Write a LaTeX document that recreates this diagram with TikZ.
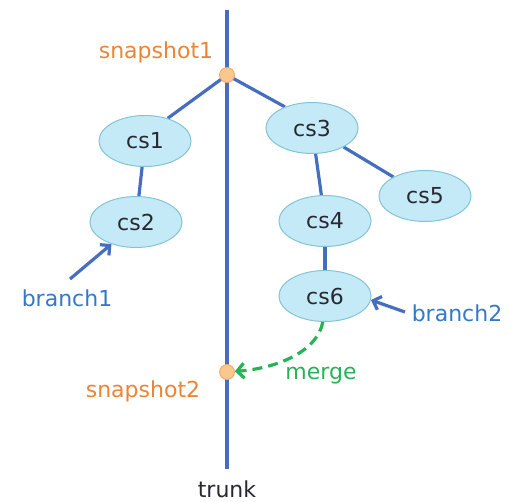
\documentclass[tikz,border=0pt]{standalone}
\usepackage{fontspec}
\setmainfont{DejaVu Sans}
\usetikzlibrary{arrows.meta,shapes.geometric,backgrounds}
\definecolor{linecol}{RGB}{70,110,192}
\definecolor{nodefill}{RGB}{196,234,248}
\definecolor{nodedraw}{RGB}{130,196,214}
\definecolor{dotfill}{RGB}{250,200,140}
\definecolor{dotdraw}{RGB}{238,168,100}
\definecolor{orangetxt}{RGB}{236,132,52}
\definecolor{bluetxt}{RGB}{52,120,200}
\definecolor{greencol}{RGB}{40,178,88}
\definecolor{darktxt}{RGB}{40,40,48}
\tikzset{
  cs/.style={ellipse, draw=nodedraw, line width=1pt, fill=nodefill,
    minimum width=92pt, minimum height=51pt, inner sep=0pt,
    font=\fontsize{22}{25}\selectfont, text=darktxt},
  snapdot/.style={circle, draw=dotdraw, fill=dotfill, line width=0.8pt,
    minimum size=15pt, inner sep=0pt},
  tline/.style={draw=linecol, line width=3.2pt},
  lbl/.style={font=\fontsize{22}{25}\selectfont, inner sep=0pt},
  barrow/.style={draw=linecol, line width=3.2pt, -{Straight Barb[length=7pt,width=14pt]}},
}
\begin{document}
\begin{tikzpicture}[x=1pt,y=-1pt]
\useasboundingbox (0,0) rectangle (511,501);
% nodes
\node[cs] (cs1) at (145,141) {cs1};
\node[cs] (cs2) at (136,222) {cs2};
\node[cs] (cs3) at (312,128) {cs3};
\node[cs] (cs4) at (325,221) {cs4};
\node[cs] (cs5) at (425,196) {cs5};
\node[cs] (cs6) at (325,296) {cs6};
\node[snapdot] (s1) at (227,75) {};
\node[snapdot] (s2) at (227,372) {};
\node[lbl, text=darktxt] (trunk) at (227,489) {trunk};
\coordinate (ttop) at (227,10);
\coordinate (tbot) at (227,469);
% connectors behind nodes
\begin{pgfonlayer}{background}
\draw[tline] (ttop) -- (tbot);
\draw[tline] (s1.center) -- (cs1.45);
\draw[tline] (s1.center) -- (cs3.142);
\draw[tline] (cs1) -- (cs2);
\draw[tline] (cs3) -- (cs4);
\draw[tline] (cs3) -- (cs5);
\draw[tline] (cs4) -- (cs6);
\end{pgfonlayer}
% labels
\node[lbl, text=orangetxt] (l1) at (156,52) {snapshot1};
\node[lbl, text=orangetxt] (l2) at (143,391) {snapshot2};
\node[lbl, text=bluetxt] (b1) at (67,298) {branch1};
\node[lbl, text=bluetxt] (b2) at (457,313) {branch2};
\node[lbl, text=greencol] (mg) at (321,376) {merge};
% arrows
\coordinate (b1s) at (70,279);
\coordinate (b2s) at (405,312);
\draw[barrow] (b1s) -- (cs2.222);
\draw[barrow] (b2s) -- (cs6.-5);
\draw[draw=greencol, line width=3.2pt, dash pattern=on 10pt off 6pt,
  -{Straight Barb[length=7pt,width=15pt]}]
  (cs6.-95) .. controls (318,350) and (280,368) .. (s2);
\end{tikzpicture}
\end{document}
